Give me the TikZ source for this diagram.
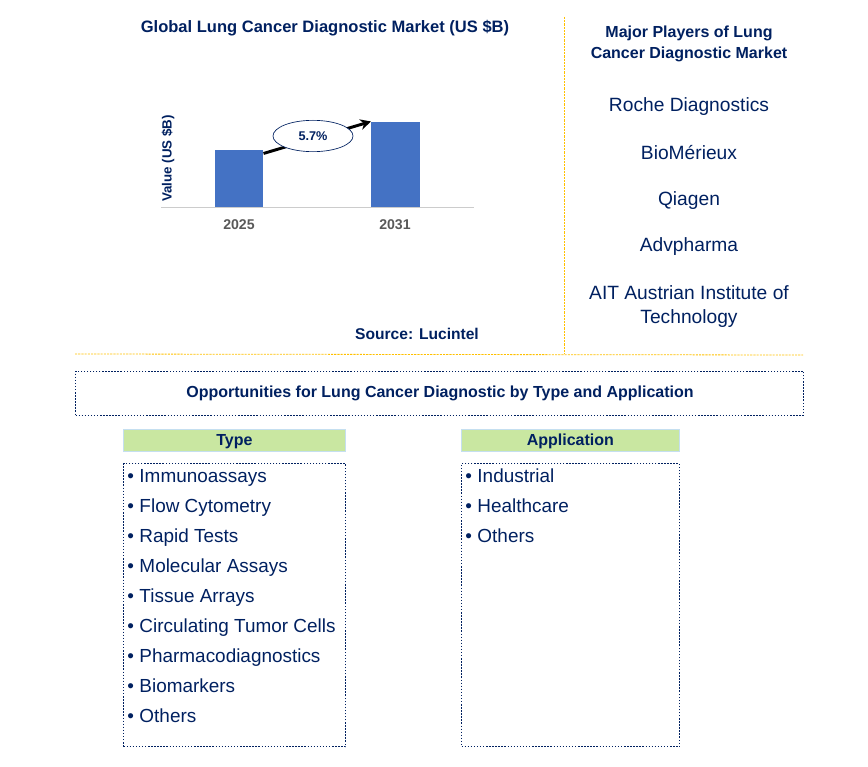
\documentclass[tikz,border=0pt]{standalone}
\usepackage{fontspec}
\setmainfont{Liberation Sans}
\usetikzlibrary{arrows.meta,shapes.geometric}
\definecolor{navytext}{HTML}{002060}
\definecolor{barblue}{HTML}{4472C4}
\definecolor{divideryellow}{HTML}{FFC000}
\definecolor{headergreen}{HTML}{C9E7A1}
\definecolor{headeredge}{HTML}{C5DFF0}
\tikzset{
  title/.style={text=navytext, font=\bfseries\fontsize{12}{16}\selectfont, align=center},
  player/.style={text=navytext, font=\fontsize{14.4}{18}\selectfont, align=center, anchor=base},
  bar/.style={fill=barblue, inner sep=0pt, anchor=south west, minimum width=#1*0.75pt},
  year/.style={text=black!65, font=\bfseries\fontsize{10.6}{12}\selectfont},
  divider/.style={divideryellow, dash pattern=on 1.6pt off 0.8pt, line width=0.6pt},
  dotbox/.style={draw=navytext, dash pattern=on 1.1pt off 1.2pt, line width=0.8pt, inner sep=0pt, anchor=north west},
  header/.style={fill=headergreen, draw=headeredge, line width=0.6pt, anchor=north west, inner sep=0pt,
    minimum height=17pt, text=navytext, text depth=2.3pt, text height=9.5pt, font=\bfseries\fontsize{12}{14}\selectfont},
  item/.style={text=navytext, font=\fontsize{14.2}{16}\selectfont, anchor=base west, inner sep=0pt}
}
\begin{document}
\begin{tikzpicture}[x=0.75pt,y=-0.75pt]
  \useasboundingbox (0,0) rectangle (868,767);

  % Titles
  \node[title, font=\bfseries\fontsize{12.4}{15}\selectfont] (charttitle) at (325,28) {Global Lung Cancer Diagnostic Market (US \$B)};
  \node[title] (playerstitle) at (689,44) {Major Players of Lung\\Cancer Diagnostic Market};
  \node[title, font=\bfseries\fontsize{11.7}{14}\selectfont] (source) at (417,334) {Source: Lucintel};

  % Bars
  \node[bar=48, minimum height=42.75pt] (bar25) at (215,207) {};
  \node[bar=49, minimum height=63.75pt] (bar31) at (371,207) {};
  \coordinate (axisleft) at (161,207.5);
  \coordinate (axisright) at (474,207.5);
  \draw[black!20, line width=0.8pt] (axisleft) -- (axisright);
  \node[year] (y25) at (239,225) {2025};
  \node[year] (y31) at (395,225) {2031};
  \node[rotate=90, text=navytext, font=\bfseries\fontsize{10}{11}\selectfont] (valuelabel) at (168,158.5) {Value (US \$B)};

  % Growth arrow
  \draw[-{Stealth[length=8pt,width=8pt]}, line width=2.2pt] ([yshift=-3pt]bar25.north east) -- (bar31.north west);
  \node[ellipse, draw=navytext, fill=white, line width=0.5pt, minimum width=60pt, minimum height=23.5pt, inner sep=0pt,
    text=navytext, font=\bfseries\fontsize{9.5}{11}\selectfont] (rate) at (313,136) {5.7\%};

  % Major players
  \node[player] (roche) at (689,112) {Roche Diagnostics};
  \node[player] (biomerieux) at (689,159) {BioMérieux};
  \node[player] (qiagen) at (689,205) {Qiagen};
  \node[player] (advpharma) at (689,251) {Advpharma};
  \node[player] (ait) at (689,323) {AIT Austrian Institute of\\Technology};

  % Dividers
  \coordinate (vtop) at (564,17);
  \coordinate (vbottom) at (564,354);
  \coordinate (hleft) at (75,354);
  \coordinate (hright) at (803,355);
  \draw[divider] (vtop) -- (vbottom);
  \draw[divider] (hleft) -- (hright);

  % Opportunities banner
  \node[dotbox, minimum width=546pt, minimum height=33pt] (banner) at (75,370.5) {};
  \node[title] (bannertext) at (440,393.5) {Opportunities for Lung Cancer Diagnostic by Type and Application};

  % Type column
  \node[header, minimum width=166.5pt] (typehead) at (123,428.5) {Type};
  \node[dotbox, minimum width=166.5pt, minimum height=212.5pt] (typebox) at (123,463) {};
  \foreach \txt [count=\i from 0] in {Immunoassays, Flow Cytometry, Rapid Tests, Molecular Assays, Tissue Arrays,
      Circulating Tumor Cells, Pharmacodiagnostics, Biomarkers, Others}
    \node[item] (type\i) at (127,{482.5+30*\i}) {•\hspace{4.2pt}\txt};

  % Application column
  \node[header, minimum width=163.5pt] (apphead) at (461,428.5) {Application};
  \node[dotbox, minimum width=163.5pt, minimum height=212.5pt] (appbox) at (461,463) {};
  \foreach \txt [count=\i from 0] in {Industrial, Healthcare, Others}
    \node[item] (app\i) at (465,{482.5+30*\i}) {•\hspace{4.2pt}\txt};
\end{tikzpicture}
\end{document}
